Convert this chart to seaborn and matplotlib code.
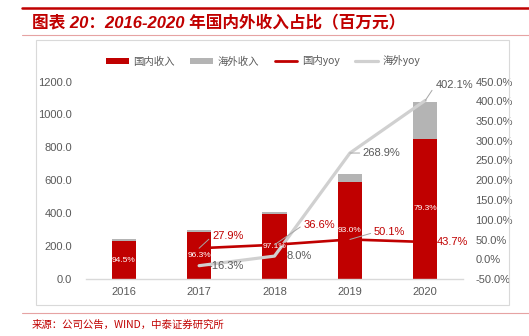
import numpy as np
import pandas as pd
import matplotlib
matplotlib.use("Agg")
import matplotlib.pyplot as plt
import seaborn as sns
from matplotlib.lines import Line2D
from matplotlib.patches import Patch, Rectangle

# ---- data ----
years = ["2016", "2017", "2018", "2019", "2020"]
domestic = [229, 286, 394, 592, 851]
overseas = [13, 11, 12, 44, 222]
domestic_share = [94.5, 96.3, 97.1, 93.0, 79.3]
domestic_yoy = [np.nan, 27.9, 36.6, 50.1, 43.7]
overseas_yoy = [np.nan, -16.3, 8.0, 268.9, 402.1]
left_ticks = [0, 200, 400, 600, 800, 1000, 1200]
right_ticks = [-50, 0, 50, 100, 150, 200, 250, 300, 350, 400, 450]

title = "图表 20：2016-2020 年国内外收入占比（百万元）"
source = "来源：公司公告，WIND，中泰证券研究所"
legend_labels = ["国内收入", "海外收入", "国内yoy", "海外yoy"]

RED = "#C00000"
GREY_BAR = "#B4B4B4"
GREY_LINE = "#D0D0D0"
TXT = "#595959"

sns.set_theme(style="white")
plt.rcParams["font.family"] = ["Liberation Sans", "Noto Sans CJK SC", "DejaVu Sans"]

df = pd.DataFrame({"year": years, "domestic": domestic, "overseas": overseas})
df["total"] = df["domestic"] + df["overseas"]
df["pos"] = np.arange(len(years))
df["dyoy"] = domestic_yoy
df["oyoy"] = overseas_yoy

W, H = 529, 336
fig = plt.figure(figsize=(W / 100, H / 100), dpi=100)
fig.patch.set_facecolor("white")

def fx(px):
    return px / W

def fy(py):
    return 1 - py / H

ax = fig.add_axes([fx(86), fy(279), fx(463) - fx(86), fy(81.5) - fy(279)])

sns.barplot(data=df, x="year", y="total", color=GREY_BAR, width=0.32,
            saturation=1, ax=ax, edgecolor="none")
sns.barplot(data=df, x="year", y="domestic", color=RED, width=0.32,
            saturation=1, ax=ax, edgecolor="none")
ax.set_xlim(-0.5, len(years) - 0.5)
ax.set_ylim(0, 1200)
ax.set_yticks(left_ticks)
ax.set_yticklabels([f"{v:.1f}" for v in left_ticks])
ax.set_xlabel("")
ax.set_ylabel("")
for s in ["top", "right", "left"]:
    ax.spines[s].set_visible(False)
ax.spines["bottom"].set_color("#D9D9D9")
ax.spines["bottom"].set_linewidth(1.0)
ax.tick_params(axis="both", length=0, labelsize=8, colors=TXT)
ax.tick_params(axis="y", pad=10)
ax.tick_params(axis="x", pad=6)

ax2 = ax.twinx()
sns.lineplot(data=df, x="pos", y="oyoy", color=GREY_LINE, linewidth=2.3, ax=ax2)
sns.lineplot(data=df, x="pos", y="dyoy", color=RED, linewidth=1.9, ax=ax2)
ax2.set_ylim(-50, 450)
ax2.set_yticks(right_ticks)
ax2.set_yticklabels([f"{v:.1f}%" for v in right_ticks])
ax2.set_xlim(-0.5, len(years) - 0.5)
ax2.set_xlabel("")
ax2.set_ylabel("")
for s in ["top", "right", "left", "bottom"]:
    ax2.spines[s].set_visible(False)
ax2.tick_params(axis="y", length=0, labelsize=8, colors=TXT, pad=9)

# share labels inside domestic bars (drawn on top of the lines)
for i, (d, sh) in enumerate(zip(domestic, domestic_share)):
    ax2.text(i, d / 2, f"{sh:.1f}%", ha="center", va="center", color="white",
             fontsize=6, zorder=10, transform=ax.transData)

# yoy labels (offsets in pixels)
lead = dict(arrowstyle="-", color="#A6A6A6", lw=0.7, shrinkA=0, shrinkB=0)
dom_off = {1: (13, 12, "left", True), 2: (29, 20, "left", True),
           3: (24, 7, "left", True), 4: (11, 0, "left", False)}
ovs_off = {1: (9, 0, "left", False), 2: (12, 0, "left", False),
           3: (13, 0, "left", True), 4: (10, 15, "left", True)}
for i, v in enumerate(domestic_yoy):
    if np.isnan(v):
        continue
    dx, dy, ha, ld = dom_off[i]
    ax2.annotate(f"{v:.1f}%", xy=(i, v), xytext=(dx, dy), textcoords="offset pixels",
                 ha=ha, va="center", color=RED, fontsize=8, zorder=12,
                 arrowprops=dict(lead, relpos=(0, 0.5)) if ld else None)
for i, v in enumerate(overseas_yoy):
    if np.isnan(v):
        continue
    dx, dy, ha, ld = ovs_off[i]
    ax2.annotate(f"{v:.1f}%", xy=(i, v), xytext=(dx, dy), textcoords="offset pixels",
                 ha=ha, va="center", color=TXT, fontsize=8, zorder=12,
                 arrowprops=dict(lead, relpos=(0, 0.5)) if ld else None)

# legend
handles = [Patch(facecolor=RED, edgecolor="none"),
           Patch(facecolor=GREY_BAR, edgecolor="none"),
           Line2D([], [], color=RED, lw=2),
           Line2D([], [], color=GREY_LINE, lw=2.3)]
fig.legend(handles, legend_labels, loc="center", bbox_to_anchor=(fx(263), fy(61)),
           ncol=4, frameon=False, handlelength=2.2, handleheight=0.5,
           handletextpad=0.4, columnspacing=1.5, labelcolor=TXT,
           prop={"family": ["Noto Sans CJK SC", "DejaVu Sans"], "size": 7.5})

# frame around chart
fig.add_artist(Rectangle((fx(36), fy(305)), fx(509) - fx(36), fy(40) - fy(305),
                         transform=fig.transFigure, fill=False,
                         edgecolor="#D9D9D9", lw=0.8))

# decorative rules
fig.add_artist(Line2D([fx(22), 1], [fy(8), fy(8)], color=RED, lw=1.8,
                      transform=fig.transFigure))
fig.add_artist(Line2D([fx(22), 1], [fy(35), fy(35)], color="#E6A3A3", lw=0.8,
                      transform=fig.transFigure))
fig.add_artist(Line2D([fx(22), 1], [fy(313), fy(313)], color="#E6A3A3", lw=0.8,
                      transform=fig.transFigure))

fig.text(fx(32), fy(23), title, ha="left", va="center", color=RED, fontsize=12,
         fontweight="bold", fontstyle="italic",
         family=["Liberation Sans", "Noto Sans CJK SC", "DejaVu Sans"])
fig.text(fx(32), fy(325), source, ha="left", va="center", color=RED, fontsize=7.5,
         family=["Noto Sans CJK SC", "DejaVu Sans"])

fig.savefig("out.png", dpi=100)
